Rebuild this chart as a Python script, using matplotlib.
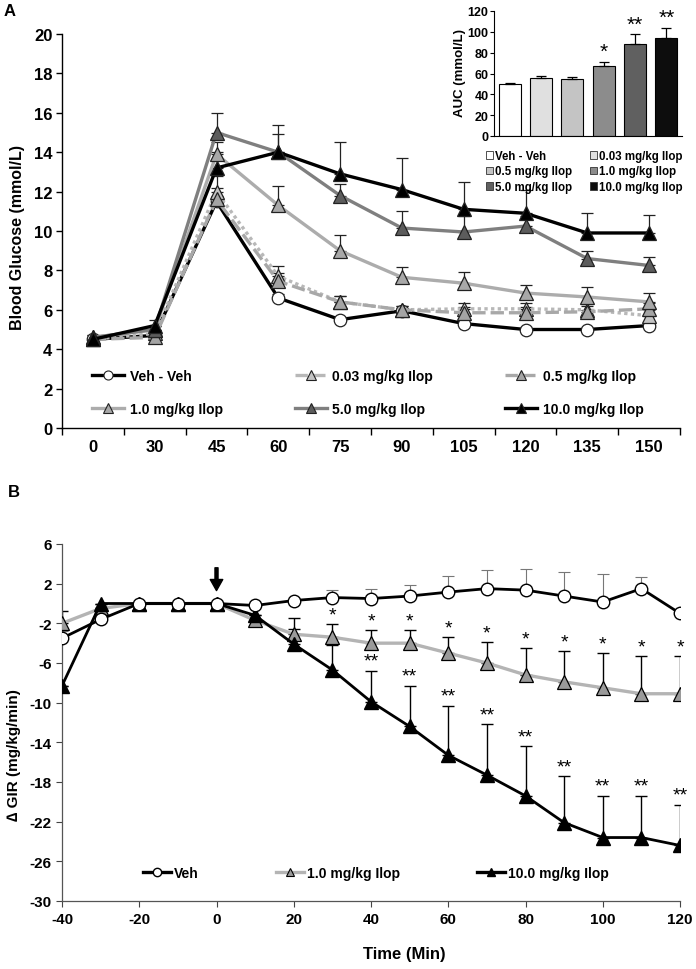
import numpy as np
import matplotlib
matplotlib.use('Agg')
import matplotlib.pyplot as plt
from matplotlib.lines import Line2D
from matplotlib.patches import Patch

plt.rcParams['font.family'] = ['Liberation Sans', 'DejaVu Sans']
plt.rcParams['font.weight'] = 'bold'
plt.rcParams['axes.unicode_minus'] = False

#############
# Panel A   #
#############
times_a = ['0', '30', '45', '60', '75', '90', '105', '120', '135', '150']
veh_a = [4.5, 4.7, 11.5, 6.6, 5.5, 5.95, 5.3, 5.0, 5.0, 5.2]
ilop003_a = [4.5, 4.8, 12.0, 7.7, 6.4, 6.0, 6.05, 6.05, 6.0, 5.7]
ilop05_a = [4.5, 4.6, 11.6, 7.45, 6.4, 6.0, 5.85, 5.85, 5.9, 6.05]
ilop1_a = [4.6, 5.0, 13.9, 11.3, 9.0, 7.65, 7.35, 6.85, 6.65, 6.4]
ilop5_a = [4.6, 5.0, 15.0, 14.0, 11.8, 10.15, 9.95, 10.25, 8.6, 8.25]
ilop10_a = [4.5, 5.2, 13.2, 14.0, 12.9, 12.1, 11.1, 10.9, 9.9, 9.9]
err_veh_a = [0.1, 0.1, 0.3, 0.2, 0.1, 0.15, 0.1, 0.1, 0.1, 0.1]
err_003_a = [0.1, 0.2, 0.8, 0.5, 0.3, 0.2, 0.3, 0.3, 0.3, 0.3]
err_05_a = [0.1, 0.2, 0.6, 0.4, 0.3, 0.2, 0.3, 0.3, 0.3, 0.3]
err_1_a = [0.1, 0.2, 0.6, 1.0, 0.8, 0.5, 0.55, 0.4, 0.5, 0.45]
err_5_a = [0.1, 0.2, 1.0, 0.9, 0.6, 0.85, 0.8, 0.5, 0.4, 0.45]
err_10_a = [0.1, 0.3, 0.8, 1.4, 1.6, 1.6, 1.4, 1.2, 1.0, 0.9]

# inset AUC
auc_groups = ['Veh - Veh', '0.03 mg/kg Ilop', '0.5 mg/kg Ilop',
              '1.0 mg/kg Ilop', '5.0 mg/kg Ilop', '10.0 mg/kg Ilop']
auc = [50, 55.5, 54.5, 67, 88, 94]
auc_err = [1.2, 2.2, 2.0, 4.5, 9.5, 9.5]
auc_sig = ['', '', '', '*', '**', '**']
auc_colors = ['white', '#e0e0e0', '#c4c4c4', '#8c8c8c', '#606060', '#0d0d0d']

#############
# Panel B   #
#############
time_b = [-40, -30, -20, -10, 0, 10, 20, 30, 40, 50, 60, 70, 80, 90, 100, 110, 120]
veh_b = [-3.5, -1.6, 0, 0, 0, -0.2, 0.3, 0.6, 0.5, 0.75, 1.15, 1.5, 1.35, 0.75, 0.15, 1.5, -1.0]
err_veh_b = [0.7, 0, 0, 0, 0, 0, 0, 0.8, 1.0, 1.15, 1.65, 1.9, 2.15, 2.45, 2.85, 1.15, 0]
ilop1_b = [-2.0, -0.5, 0, 0, 0, -1.7, -3.1, -3.4, -4.0, -4.0, -5.0, -6.0, -7.2, -7.9, -8.5, -9.1, -9.1]
err_1_b = [1.2, 0, 0, 0, 0, 0, 1.6, 1.3, 1.3, 1.3, 1.6, 2.1, 2.7, 3.1, 3.5, 3.8, 3.8]
ilop10_b = [-8.3, 0, 0, 0, 0, -1.2, -4.1, -6.7, -9.9, -12.4, -15.3, -17.3, -19.4, -22.1, -23.6, -23.6, -24.4]
err_10_b = [0, 0, 0, 0, 0, 0, 1.5, 2.5, 3.1, 4.1, 5.0, 5.1, 5.0, 4.7, 4.2, 4.2, 4.1]
sig_1_b = ['', '', '', '', '', '', '', '*', '*', '*', '*', '*', '*', '*', '*', '*', '*']
sig_10_b = ['', '', '', '', '', '', '', '', '**', '**', '**', '**', '**', '**', '**', '**', '**']

W, H = 696, 970
fig = plt.figure(figsize=(W / 100, H / 100), dpi=100)


def px_axes(l, t, r, b):
    return fig.add_axes([l / W, 1 - b / H, (r - l) / W, (b - t) / H])


def up_err(ax, x, y, e, color='black', lw=0.9, cap=4):
    e = np.asarray(e, dtype=float)
    ax.errorbar(x, y, yerr=[np.zeros_like(e), e], fmt='none', ecolor=color,
                elinewidth=lw, capsize=cap, capthick=lw, zorder=2)


# ---------------- Panel A ----------------
axA = px_axes(62, 35, 680, 429)
xa = np.arange(len(times_a))
series_a = [
    ('Veh - Veh', veh_a, err_veh_a, dict(color='black', ls='-', lw=2.4, marker='o', mfc='white', ms=9)),
    ('0.03 mg/kg Ilop', ilop003_a, err_003_a, dict(color='#b8b8b8', ls=(0, (1, 1)), lw=2.4, marker='^', mfc='#c4c4c4', ms=10)),
    ('0.5 mg/kg Ilop', ilop05_a, err_05_a, dict(color='#a8a8a8', ls=(0, (4, 1.5)), lw=2.4, marker='^', mfc='#a4a4a4', ms=10)),
    ('1.0 mg/kg Ilop', ilop1_a, err_1_a, dict(color='#acacac', ls='-', lw=2.4, marker='^', mfc='#a8a8a8', ms=10)),
    ('5.0 mg/kg Ilop', ilop5_a, err_5_a, dict(color='#7f7f7f', ls='-', lw=2.4, marker='^', mfc='#5c5c5c', ms=10)),
    ('10.0 mg/kg Ilop', ilop10_a, err_10_a, dict(color='black', ls='-', lw=2.4, marker='^', mfc='black', ms=10)),
]
handles_a = {}
for name, vals, err, st in series_a:
    up_err(axA, xa, vals, err, color='#222222')
    ln, = axA.plot(xa, vals, mec='#222222', mew=0.9, zorder=3, **st)
    handles_a[name] = ln

axA.set_xlim(-0.5, len(times_a) - 0.5)
axA.set_ylim(0, 20)
axA.set_yticks(np.arange(0, 21, 2))
axA.set_xticks(xa)
axA.set_xticklabels(times_a)
axA.set_xticks(np.arange(-0.5, len(times_a)), minor=True)
axA.tick_params(axis='x', which='major', length=0, pad=8, labelsize=12)
axA.tick_params(axis='x', which='minor', length=5, width=1, direction='out')
axA.tick_params(axis='y', length=4, width=1, direction='out', labelsize=12, pad=3)
for s in ['top', 'right']:
    axA.spines[s].set_visible(False)
for s in ['left', 'bottom']:
    axA.spines[s].set_linewidth(1.0)
axA.set_ylabel('Blood Glucose (mmol/L)', fontsize=11.5, fontweight='bold')
axA.yaxis.set_label_coords((25 - 62) / 618, (429 - 238) / 394)

order_a = ['Veh - Veh', '1.0 mg/kg Ilop', '0.03 mg/kg Ilop', '5.0 mg/kg Ilop',
           '0.5 mg/kg Ilop', '10.0 mg/kg Ilop']
leg_a = []
for name in order_a:
    src = handles_a[name]
    leg_a.append(Line2D([], [], color=src.get_color(), ls=src.get_linestyle(), lw=2.4,
                        marker=src.get_marker(), mfc=src.get_markerfacecolor(),
                        mec='#222222', mew=0.8, ms=6.5))
axA.legend(leg_a, order_a, ncol=3, loc='upper left',
           bbox_to_anchor=((92 - 62) / 618, (429 - 370) / 394),
           frameon=False, borderpad=0, borderaxespad=0,
           handlelength=2.3, handletextpad=0.4, columnspacing=5.2, labelspacing=1.35,
           prop={'weight': 'bold', 'size': 10})

# inset AUC
axI = px_axes(494, 12, 682, 137)
xi = np.arange(len(auc))
axI.bar(xi, auc, width=0.7, color=auc_colors, edgecolor='black', linewidth=0.8, zorder=2)
up_err(axI, xi, auc, auc_err, color='black', lw=0.9, cap=3.5)
for i, s in enumerate(auc_sig):
    if s:
        axI.text(xi[i], auc[i] + auc_err[i] + 1, s, ha='center', va='bottom',
                 fontsize=15, fontweight='normal', clip_on=False)
axI.set_xlim(-0.5, len(auc) - 0.5)
axI.set_ylim(0, 120)
axI.set_yticks(np.arange(0, 121, 20))
axI.set_xticks([])
axI.tick_params(axis='y', length=3, width=0.8, labelsize=9, pad=1)
for s in ['top', 'right']:
    axI.spines[s].set_visible(False)
axI.set_ylabel('AUC (mmol/L)', fontsize=9.5, fontweight='bold')
axI.yaxis.set_label_coords((466 - 494) / 188, (137 - 73) / 125)
order_i = [0, 2, 4, 1, 3, 5]
patches = [Patch(facecolor=auc_colors[i], edgecolor='#333333', linewidth=0.6) for i in order_i]
axI.legend(patches, [auc_groups[i] for i in order_i], ncol=2, loc='upper left',
           bbox_to_anchor=((486 - 494) / 188, (137 - 151) / 125),
           frameon=False, borderpad=0, borderaxespad=0,
           handlelength=0.6, handleheight=0.6, handletextpad=0.2,
           columnspacing=1.5, labelspacing=0.3, prop={'weight': 'bold', 'size': 8.3})

# ---------------- Panel B ----------------
axB = px_axes(62, 545, 680, 902)
up_err(axB, time_b, veh_b, err_veh_b, color='#777777', lw=0.8, cap=4)
up_err(axB, time_b, ilop1_b, err_1_b, color='black', lw=1.0, cap=4)
up_err(axB, time_b, ilop10_b, err_10_b, color='black', lw=1.0, cap=4)
lb1, = axB.plot(time_b, ilop1_b, color='#b4b4b4', lw=2.4, marker='^', mfc='#9a9a9a',
                mec='black', mew=0.9, ms=10, zorder=3)
lb10, = axB.plot(time_b, ilop10_b, color='black', lw=2.0, marker='^', mfc='black',
                 mec='black', ms=10, zorder=4)
lbv, = axB.plot(time_b, veh_b, color='black', lw=2.0, marker='o', mfc='white',
                mec='black', mew=1.0, ms=9, zorder=5)
for i, t in enumerate(time_b):
    if sig_1_b[i]:
        axB.text(t, ilop1_b[i] + err_1_b[i] + 0.1, sig_1_b[i], ha='center', va='bottom',
                 fontsize=14, fontweight='normal')
    if sig_10_b[i]:
        axB.text(t, ilop10_b[i] + err_10_b[i] + 0.1, sig_10_b[i], ha='center', va='bottom',
                 fontsize=14, fontweight='normal')

axB.annotate('', xy=(0, 1.3), xytext=(0, 3.6),
             arrowprops=dict(facecolor='black', edgecolor='black', width=2.2,
                             headwidth=9, headlength=8, shrink=0))
axB.set_xlim(-40, 120)
axB.set_ylim(-30, 6)
axB.set_xticks(np.arange(-40, 121, 20))
axB.set_yticks(np.arange(-30, 7, 4))
axB.tick_params(axis='both', length=4, width=0.8, direction='out', labelsize=11, colors='#444444',
                labelcolor='black')
axB.tick_params(axis='x', pad=4)
for s in ['top', 'right']:
    axB.spines[s].set_visible(False)
for s in ['left', 'bottom']:
    axB.spines[s].set_color('#555555')
    axB.spines[s].set_linewidth(0.9)
axB.set_ylabel('\u2206 GIR (mg/kg/min)', fontsize=11, fontweight='bold')
axB.yaxis.set_label_coords((21 - 62) / 618, (902 - 755) / 357)
axB.set_xlabel('Time (Min)', fontsize=12, fontweight='bold')
axB.xaxis.set_label_coords((404 - 62) / 618, (902 - 947) / 357)

leg_b = [Line2D([], [], color='black', lw=2.4, marker='o', mfc='white', mec='black', ms=6),
         Line2D([], [], color='#b4b4b4', lw=2.4, marker='^', mfc='#9a9a9a', mec='black', mew=0.8, ms=6),
         Line2D([], [], color='black', lw=2.4, marker='^', mfc='black', mec='black', ms=6)]
axB.legend(leg_b, ['Veh', '1.0 mg/kg Ilop', '10.0 mg/kg Ilop'], ncol=3, loc='upper left',
           bbox_to_anchor=((143 - 62) / 618, (902 - 867) / 357),
           frameon=False, borderpad=0, borderaxespad=0,
           handlelength=2.0, handletextpad=0.2, columnspacing=5.6,
           prop={'weight': 'bold', 'size': 10})

fig.text(4 / W, 1 - 12 / H, 'A', fontsize=12, fontweight='bold', va='center', ha='left')
fig.text(8 / W, 1 - 493 / H, 'B', fontsize=12, fontweight='bold', va='center', ha='left')

fig.savefig('out.png', dpi=100)
